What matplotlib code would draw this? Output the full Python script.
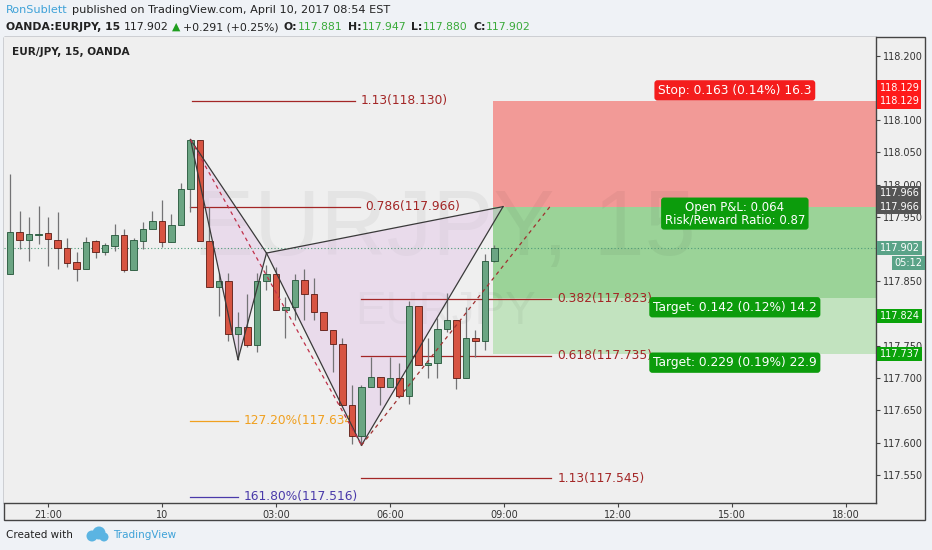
"""
EUR/JPY 15 min chart with harmonic pattern, fib levels and a short position box.
"""

import matplotlib
matplotlib.use('Agg')
import matplotlib.pyplot as plt
import matplotlib.patches as patches
from matplotlib.transforms import blended_transform_factory
import numpy as np

W, H = 932, 550

# 15 min candles, 20:00 (Apr 9) -> 08:45 (Apr 10)
opens = [117.862, 117.926, 117.914, 117.922, 117.925, 117.915, 117.902, 117.880, 117.869, 117.912,
         117.895, 117.905, 117.922, 117.868, 117.913, 117.932, 117.943, 117.911, 117.938, 117.993,
         118.069, 117.912, 117.841, 117.851, 117.768, 117.779, 117.751, 117.850, 117.862, 117.805,
         117.810, 117.852, 117.831, 117.803, 117.775, 117.753, 117.658, 117.611, 117.687, 117.702,
         117.686, 117.701, 117.673, 117.812, 117.720, 117.723, 117.776, 117.790, 117.701, 117.762,
         117.757, 117.881]
highs = [118.016, 117.959, 117.950, 117.967, 117.950, 117.958, 117.917, 117.895, 117.919, 117.914,
         117.910, 117.939, 117.931, 117.918, 117.942, 117.959, 117.976, 117.954, 118.002, 118.070,
         118.070, 117.966, 117.863, 117.863, 117.803, 117.830, 117.863, 117.876, 117.873, 117.826,
         117.862, 117.869, 117.855, 117.803, 117.775, 117.763, 117.689, 117.690, 117.733, 117.702,
         117.733, 117.724, 117.819, 117.812, 117.763, 117.793, 117.832, 117.790, 117.811, 117.774,
         117.893, 117.906]
lows = [117.862, 117.900, 117.882, 117.908, 117.874, 117.870, 117.873, 117.851, 117.869, 117.887,
        117.891, 117.897, 117.864, 117.868, 117.900, 117.932, 117.904, 117.911, 117.938, 117.958,
        117.913, 117.841, 117.796, 117.757, 117.728, 117.749, 117.741, 117.837, 117.805, 117.762,
        117.790, 117.791, 117.790, 117.775, 117.709, 117.658, 117.598, 117.596, 117.687, 117.658,
        117.686, 117.673, 117.660, 117.720, 117.701, 117.701, 117.772, 117.684, 117.701, 117.733,
        117.743, 117.880]
closes = [117.926, 117.914, 117.923, 117.924, 117.916, 117.902, 117.879, 117.869, 117.911, 117.895,
          117.906, 117.922, 117.868, 117.914, 117.932, 117.943, 117.911, 117.938, 117.993, 118.069,
          117.913, 117.841, 117.851, 117.768, 117.779, 117.751, 117.850, 117.862, 117.805, 117.810,
          117.852, 117.831, 117.803, 117.775, 117.753, 117.658, 117.611, 117.687, 117.702, 117.686,
          117.701, 117.673, 117.812, 117.720, 117.723, 117.776, 117.790, 117.701, 117.762, 117.757,
          117.881, 117.902]

# time axis (bar index of each label)
time_ticks = [4, 16, 28, 40, 52, 64, 76, 88]
time_labels = ['21:00', '10', '03:00', '06:00', '09:00', '12:00', '15:00', '18:00']
price_ticks = [117.55, 117.60, 117.65, 117.70, 117.75, 117.80, 117.85, 117.90,
               117.95, 118.00, 118.05, 118.10, 118.15, 118.20]
hidden_ticks = [117.80, 117.90, 118.15]   # covered by the price tags

# XABCD pattern points (bar index, price)
pat_x = [19, 24, 27, 37, 51.9]
pat_y = [118.070, 117.729, 117.894, 117.596, 117.966]
dash_end = (57, 117.969)

# fib levels
fib_labels = ['1.13(118.130)', '0.786(117.966)', '0.382(117.823)', '0.618(117.735)',
              '127.20%(117.634)', '1.13(117.545)', '161.80%(117.516)']
fib_prices = [118.130, 117.966, 117.823, 117.735, 117.634, 117.545, 117.516]
fib_start = [19.2, 19, 37, 37, 19, 37, 19]
fib_end = [36.3, 36.8, 57, 57, 24, 57, 24]
fib_colors = ['#a32626', '#a32626', '#a32626', '#a32626', '#f0a020', '#a32626', '#4a3aaa']

# short position
entry = 117.966
stop = 118.129
target1 = 117.824
target2 = 117.737
last_price = 117.902
pos_start = 50.85

plt.rcParams['font.family'] = ['DejaVu Sans']
fig = plt.figure(figsize=(W / 100, H / 100), dpi=100)
fig.patch.set_facecolor('#eff2f6')

ax = fig.add_axes([4 / W, 47 / H, 872 / W, 466 / H])
ax.set_facecolor('#efefef')
ax.set_xlim(-0.632, 91.16)
ax.set_ylim(117.5065, 118.229)

# background for price/time axis areas + outer frame
fig.patches.append(patches.Rectangle((4 / W, 30 / H), 921 / W, 483 / H, transform=fig.transFigure,
                                     facecolor='#efefef', edgecolor='#444444', lw=1.0, zorder=-5))
for s in ['top', 'left']:
    ax.spines[s].set_visible(False)
for s in ['right', 'bottom']:
    ax.spines[s].set_color('#444444')
    ax.spines[s].set_linewidth(1.0)

# watermark
wm = dict(color='#000000', alpha=0.045, ha='center', va='center', family='Liberation Sans', zorder=0.5)
ax.text(0.5053, 0.583, 'EURJPY, 15', transform=ax.transAxes, fontsize=66, **wm)
ax.text(0.5063, 0.41, 'EURJPY', transform=ax.transAxes, fontsize=33, **wm)

# position boxes
x_right = ax.get_xlim()[1]
ax.add_patch(patches.Rectangle((pos_start, entry), x_right - pos_start, stop - entry,
                               facecolor='#f29a97', edgecolor='none', zorder=0.3))
ax.add_patch(patches.Rectangle((pos_start, target1), x_right - pos_start, entry - target1,
                               facecolor='#9bd398', edgecolor='none', zorder=0.3))
ax.add_patch(patches.Rectangle((pos_start, target2), x_right - pos_start, target1 - target2,
                               facecolor='#c2e3bf', edgecolor='none', zorder=0.3))

# pattern fills
ax.fill(pat_x[:3], pat_y[:3], facecolor='#e0bfe6', alpha=0.4, edgecolor='none', zorder=0.8)
ax.fill(pat_x[2:], pat_y[2:], facecolor='#e0bfe6', alpha=0.4, edgecolor='none', zorder=0.8)

# fib levels
for lab, p, x0, x1, c in zip(fib_labels, fib_prices, fib_start, fib_end, fib_colors):
    ax.plot([x0, x1], [p, p], color=c, lw=0.9, zorder=1)
    ax.text(x1 + 0.6, p, lab, color=c, fontsize=8.8, ha='left', va='center', zorder=1)

# last price line
ax.axhline(last_price, color='#4d9c7a', lw=0.8, ls=(0, (1, 2)), zorder=1.2)

# candles
idx = np.arange(len(opens))
o = np.array(opens)
c = np.array(closes)
up = c >= o
ax.vlines(idx, lows, highs, color='#737375', lw=0.9, zorder=2)
body_lo = np.minimum(o, c)
body_h = np.maximum(np.abs(c - o), 0.0012)
ax.bar(idx[up], body_h[up], bottom=body_lo[up], width=0.68, color='#6ba583',
       edgecolor='#225437', lw=0.6, zorder=3)
ax.bar(idx[~up], body_h[~up], bottom=body_lo[~up], width=0.68, color='#d75442',
       edgecolor='#5b1a13', lw=0.6, zorder=3)

# pattern lines
px, py = pat_x, pat_y
for a, b in [(0, 1), (1, 2), (0, 2), (2, 3), (3, 4), (2, 4)]:
    ax.plot([px[a], px[b]], [py[a], py[b]], color='#3a3a3a', lw=0.9, zorder=4)
ax.plot([px[0], px[3]], [py[0], py[3]], color='#c0304a', lw=0.9, ls=(0, (3, 3)), zorder=4)
ax.plot([px[3], dash_end[0]], [py[3], dash_end[1]], color='#a03030', lw=0.9, ls=(0, (3, 3)), zorder=4)

# position labels
lab_x = 76.3
box = lambda fc: dict(boxstyle='round,pad=0.3,rounding_size=0.25', fc=fc, ec='none')
ax.annotate('Stop: 0.163 (0.14%) 16.3', (lab_x, stop), xytext=(0, 8), textcoords='offset points',
            ha='center', va='center', color='white', fontsize=8.8, bbox=box('#f41d1d'), zorder=6)
ax.annotate('Open P&L: 0.064\nRisk/Reward Ratio: 0.87', (lab_x, entry), xytext=(0, -5),
            textcoords='offset points', ha='center', va='center', color='white', fontsize=8.5,
            linespacing=0.9, bbox=box('#0c9c0c'), zorder=6)
ax.annotate('Target: 0.142 (0.12%) 14.2', (lab_x, target1), xytext=(0, -6.5), textcoords='offset points',
            ha='center', va='center', color='white', fontsize=8.8, bbox=box('#0c9c0c'), zorder=6)
ax.annotate('Target: 0.229 (0.19%) 22.9', (lab_x, target2), xytext=(0, -6), textcoords='offset points',
            ha='center', va='center', color='white', fontsize=8.8, bbox=box('#0c9c0c'), zorder=6)

ax.text(0.0092, 0.968, 'EUR/JPY, 15, OANDA', transform=ax.transAxes, fontsize=7.6,
        fontweight='bold', color='#222222', ha='left', va='center')

# axes ticks
ax.yaxis.tick_right()
ax.set_yticks(price_ticks)
ax.set_yticklabels(['' if any(abs(p - h) < 1e-6 for h in hidden_ticks) else '%.3f' % p
                    for p in price_ticks])
ax.set_xticks(time_ticks)
ax.set_xticklabels(time_labels)
ax.tick_params(axis='both', direction='out', length=3, width=0.8, color='#444444',
               labelsize=7, labelcolor='#333333', pad=2)

# price tags on the axis
tr = blended_transform_factory(ax.transAxes, ax.transData)
tags = [(stop, 10, '118.129', '#ff1a1a'), (stop, 0, '118.129', '#ff1a1a'),
        (entry, 9.5, '117.966', '#555555'), (entry, 0, '117.966', '#555555'),
        (last_price, 0, '117.902', '#5aa388'), (target1, -13, '117.824', '#0aa30a'),
        (target2, 0, '117.737', '#0aa30a')]
for p, off, txt, col in tags:
    ax.annotate(txt, (1.0, p), xycoords=tr, xytext=(2.5, off), textcoords='offset points',
                ha='left', va='center', fontsize=7, color='white', annotation_clip=False,
                bbox=dict(boxstyle='square,pad=0.22', fc=col, ec='none'), zorder=7)
ax.annotate('05:12', (1.0, last_price), xycoords=tr, xytext=(33.5, -11), textcoords='offset points',
            ha='right', va='center', fontsize=7, color='white', annotation_clip=False,
            bbox=dict(boxstyle='square,pad=0.22', fc='#5aa388', ec='none'), zorder=7)

# header rows
fig.canvas.draw()
r = fig.canvas.get_renderer()


def put_row(pieces, x0, y, size):
    x = x0
    for s, col, wt, gap in pieces:
        t = fig.text(x / W, 1 - y / H, s, color=col, fontsize=size, fontweight=wt,
                     ha='left', va='center')
        x += t.get_window_extent(renderer=r).width + gap


dark = '#222222'
grn = '#3aaa3a'
put_row([('RonSublett', '#3ea2d8', 'normal', 4),
         ('published on TradingView.com, April 10, 2017 08:54 EST', dark, 'normal', 0)], 6, 10, 8.1)
put_row([('OANDA:EURJPY, 15', dark, 'bold', 4), ('117.902', dark, 'normal', 3),
         ('▲', '#1f9e1f', 'normal', 3), ('+0.291 (+0.25%)', dark, 'normal', 5),
         ('O:', dark, 'bold', 0.5), ('117.881', grn, 'normal', 5),
         ('H:', dark, 'bold', 0.5), ('117.947', grn, 'normal', 5),
         ('L:', dark, 'bold', 0.5), ('117.880', grn, 'normal', 5),
         ('C:', dark, 'bold', 0.5), ('117.902', grn, 'normal', 0)], 6, 27, 7.8)

# footer
fig.text(6 / W, 1 - 535 / H, 'Created with', fontsize=7.5, color='#222222', ha='left', va='center')
for cx, cy, rr in [(92, 536, 5.5), (99, 533, 6.5), (104, 537, 4.5)]:
    fig.patches.append(patches.Ellipse((cx / W, 1 - cy / H), 2 * rr / W, 2 * rr / H,
                                       transform=fig.transFigure, fc='#5bb4e2', ec='none'))
fig.text(113 / W, 1 - 535 / H, 'TradingView', fontsize=7.5, color='#3ea2d8', ha='left', va='center')

fig.savefig('out.png', dpi=100, facecolor=fig.get_facecolor())
